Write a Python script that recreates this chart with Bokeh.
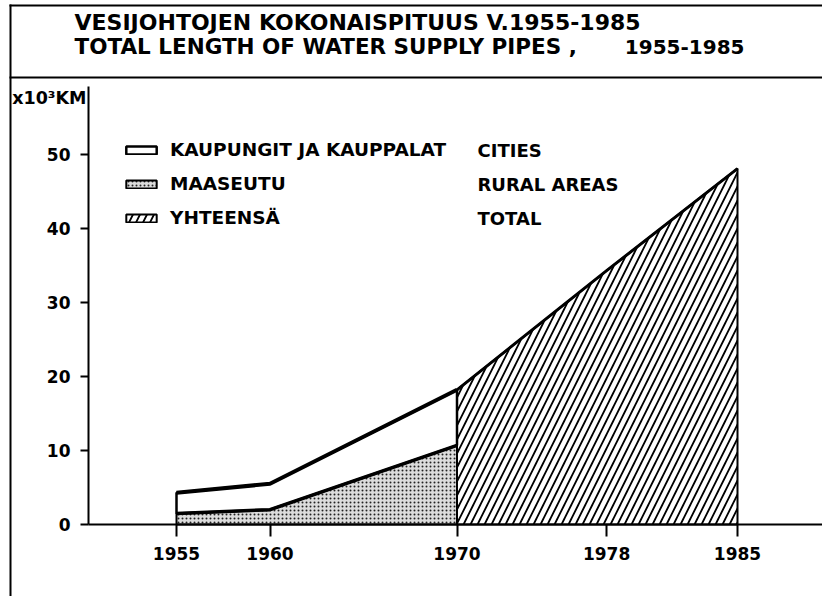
from bokeh.plotting import figure
from bokeh.models import FixedTicker, Range1d, Label, BoxAnnotation, Legend, LegendItem
from bokeh.embed import file_html
from bokeh.resources import INLINE

# ---- data (x10^3 km) ----
years_a = [1955, 1960, 1970]
cities_top = [4.3, 5.5, 18.2]      # upper edge of the cities band (cities + rural)
rural = [1.5, 2.0, 10.7]           # rural areas
years_b = [1970, 1978, 1985]
total = [18.2, 34.3, 48.1]         # total

x_ticks = [1955, 1960, 1970, 1978, 1985]
y_ticks = [0, 10, 20, 30, 40, 50]

title_fi = "VESIJOHTOJEN KOKONAISPITUUS V.1955-1985"
title_en = "TOTAL LENGTH OF WATER SUPPLY PIPES ,"
title_en_years = "1955-1985"
unit_label = "x10³KM"
labels_fi = ["KAUPUNGIT JA KAUPPALAT", "MAASEUTU", "YHTEENSÄ"]
labels_en = ["CITIES", "RURAL AREAS", "TOTAL"]

FONT = "DejaVu Sans"
W, H = 822, 596

# layout of the plotting area (pixels on the page)
PX_YR, PX_UNIT = 18.7, 7.4
X0_PX, Y0_PX = 176, 524            # where 1955 / 0 sit
AXIS_LEFT_PX, AXIS_TOP_PX = 88, 86
x_start = 1955 - X0_PX / PX_YR
x_end = x_start + W / PX_YR
y_end = Y0_PX / PX_UNIT
y_start = -(H - Y0_PX) / PX_UNIT

p = figure(width=W, height=H, output_backend="svg", toolbar_location=None,
           x_range=Range1d(x_start, x_end), y_range=Range1d(y_start, y_end),
           min_border=0, min_border_left=0, min_border_right=0,
           min_border_top=0, min_border_bottom=0)
p.xgrid.visible = False
p.ygrid.visible = False
p.outline_line_color = None
p.background_fill_color = "white"
p.border_fill_color = "white"

y_axis_x = x_start + AXIS_LEFT_PX / PX_YR
p.yaxis.fixed_location = y_axis_x
p.xaxis.fixed_location = 0
p.yaxis.bounds = (0, (Y0_PX - AXIS_TOP_PX) / PX_UNIT)
p.xaxis.bounds = (y_axis_x, x_end)

for ax in (p.xaxis[0], p.yaxis[0]):
    ax.axis_line_width = 2
    ax.axis_line_color = "black"
    ax.major_tick_line_width = 2
    ax.major_tick_line_color = "black"
    ax.minor_tick_line_color = None
    ax.major_tick_in = 0
    ax.major_label_text_font = FONT
    ax.major_label_text_font_style = "bold"
    ax.major_label_text_font_size = "17px"
    ax.major_label_text_color = "black"
p.xaxis.ticker = FixedTicker(ticks=x_ticks)
p.xaxis.major_tick_out = 12
p.xaxis.major_label_standoff = 10
p.yaxis.ticker = FixedTicker(ticks=y_ticks)
p.yaxis.major_tick_out = 8
p.yaxis.major_label_standoff = 10

# ---- areas ----
xa = years_a + years_a[::-1]
xb = years_b + years_b[::-1]
zeros_a = [0] * len(years_a)
zeros_b = [0] * len(years_b)

total_r = p.patch(xb, total + zeros_b, fill_color="white", hatch_pattern="/",
                  hatch_scale=14, hatch_weight=1.8, hatch_color="black",
                  line_color="black", line_width=2)
rural_r = p.patch(xa, rural + zeros_a, fill_color="#dcdcdc", hatch_pattern=".",
                  hatch_scale=4, hatch_weight=1.3, hatch_color="#222222",
                  line_color="black", line_width=2)
cities_r = p.patch(xa, cities_top + rural[::-1], fill_color="white",
                   line_color="black", line_width=2.5)

p.line(years_a, cities_top, line_width=4, color="black")
p.line(years_a, rural, line_width=3.5, color="black")
p.line(years_b, total, line_width=3, color="black")

# ---- legend ----
legend = Legend(items=[LegendItem(label=labels_fi[0], renderers=[cities_r]),
                       LegendItem(label=labels_fi[1], renderers=[rural_r]),
                       LegendItem(label=labels_fi[2], renderers=[total_r])],
                location=(122, 368), glyph_width=38, glyph_height=10,
                label_standoff=10, spacing=13, padding=0, margin=0,
                label_height=21, border_line_alpha=0, background_fill_alpha=0,
                label_text_font=FONT, label_text_font_style="bold",
                label_text_font_size="18.5px", label_text_color="black")
p.add_layout(legend)

for txt, yc in zip(labels_en, [149.5, 184, 218]):
    p.add_layout(Label(x=477, y=yc, x_units="canvas", y_units="canvas", text=txt,
                       text_font=FONT, text_font_style="bold", text_font_size="18px",
                       text_baseline="middle", text_color="black"))

# ---- titles / unit label ----
def text(x, y, s, size, align="left", font=FONT):
    p.add_layout(Label(x=x, y=y, x_units="canvas", y_units="canvas", text=s,
                       text_font=font, text_font_style="bold", text_font_size=size,
                       text_baseline="middle", text_align=align, text_color="black"))

text(74, 22, title_fi, "22px")
text(74, 46, title_en, "21.5px")
text(744, 46, title_en_years, "20px", "right")
text(86, 97, unit_label, "17.5px", "right")

# ---- frame lines of the page ----
def rule(l, r, t, b):
    p.add_layout(BoxAnnotation(left=l, right=r, top=t, bottom=b,
                               left_units="canvas", right_units="canvas",
                               top_units="canvas", bottom_units="canvas",
                               fill_color="black", fill_alpha=1, line_alpha=0))

rule(9, W, 4, 6)        # top border
rule(9, W, 76, 78)      # separator under the title
rule(9, 11, 4, H)       # left border

open("out.html", "w").write(file_html(p, INLINE))
